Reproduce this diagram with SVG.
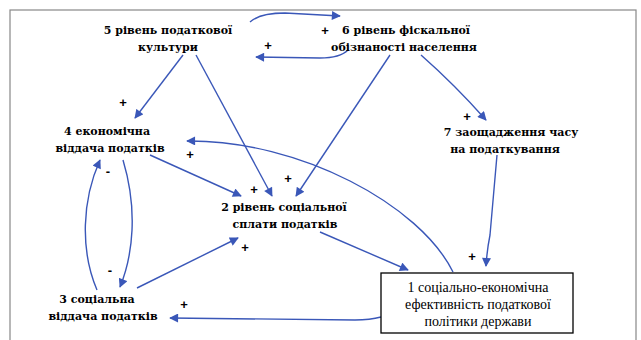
<svg xmlns="http://www.w3.org/2000/svg" width="641" height="340" viewBox="0 0 641 340">
<style>
.lbl{font-family:"DejaVu Serif","Liberation Serif",serif;font-weight:bold;font-size:11px;fill:#000;text-anchor:middle}
.box{font-family:"Liberation Serif","Times New Roman",serif;font-size:14px;fill:#000;text-anchor:middle}
.sg{font-family:"Liberation Sans",Arial,sans-serif;font-weight:bold;font-size:13px;fill:#000;text-anchor:middle}
.c{fill:none;stroke:#3a57b8;stroke-width:1.4}
</style>
<defs>
<marker id="ah" viewBox="0 0 10 10" refX="9" refY="5" markerWidth="10" markerHeight="9" markerUnits="userSpaceOnUse" orient="auto">
<path d="M0,0 L10,5 L0,10 Z" fill="#3a57b8"/>
</marker>
</defs>
<rect x="10" y="10" width="626" height="340" fill="#fff" stroke="#888" stroke-width="1.2"/>
<g id="connectors">
<path class="c" d="M250,22 Q260,13 285,13 L340,16" marker-end="url(#ah)"/>
<path class="c" d="M348,50 Q340,58 320,58 L256,57" marker-end="url(#ah)"/>
<path class="c" d="M183,55 L135,118" marker-end="url(#ah)"/>
<path class="c" d="M196,55 L272,196" marker-end="url(#ah)"/>
<path class="c" d="M390,55 L296,196" marker-end="url(#ah)"/>
<path class="c" d="M421,55 Q455,85 486,120" marker-end="url(#ah)"/>
<path class="c" d="M150,155 L241,196" marker-end="url(#ah)"/>
<path class="c" d="M453,272 C420,205 300,140 187,141" marker-end="url(#ah)"/>
<path class="c" d="M97,290 C80,250 82,200 100,160" marker-end="url(#ah)"/>
<path class="c" d="M123,160 C138,210 133,255 120,287" marker-end="url(#ah)"/>
<path class="c" d="M137,288 L238,238" marker-end="url(#ah)"/>
<path class="c" d="M320,232 L408,270" marker-end="url(#ah)"/>
<path class="c" d="M497,155 L490,235 Q487,250 486,266" marker-end="url(#ah)"/>
<path class="c" d="M381,317 Q370,320 355,320 L170,318" marker-end="url(#ah)"/>
</g>
<g id="signs">
<text class="sg" x="325" y="35">+</text>
<text class="sg" x="268" y="50">+</text>
<text class="sg" x="123" y="107">+</text>
<text class="sg" x="190" y="159">+</text>
<text class="sg" x="467" y="121">+</text>
<text class="sg" x="254" y="194">+</text>
<text class="sg" x="288" y="183">+</text>
<text class="sg" x="245" y="252">+</text>
<text class="sg" x="108" y="176">-</text>
<text class="sg" x="110" y="275">-</text>
<text class="sg" x="472" y="261">+</text>
<text class="sg" x="184" y="309">+</text>
<text class="sg" x="386" y="281" style="font-weight:normal;font-size:11px">+</text>
</g>
<g id="n5"><text class="lbl" x="168" y="34">5 рівень податкової</text><text class="lbl" x="168" y="51">культури</text></g>
<g id="n6"><text class="lbl" x="406" y="34">6 рівень фіскальної</text><text class="lbl" x="404" y="51">обізнаності населення</text></g>
<g id="n4"><text class="lbl" x="107" y="135">4 економічна</text><text class="lbl" x="110" y="152">віддача податків</text></g>
<g id="n7"><text class="lbl" x="511" y="136">7 заощадження часу</text><text class="lbl" x="505" y="153">на податкування</text></g>
<g id="n2"><text class="lbl" x="284" y="211">2 рівень соціальної</text><text class="lbl" x="285" y="228">сплати податків</text></g>
<g id="n3"><text class="lbl" x="97" y="303">3 соціальна</text><text class="lbl" x="103" y="320">віддача податків</text></g>
<g id="n1"><rect x="381" y="273" width="192" height="60" fill="#fff" stroke="#000" stroke-width="1.3"/>
<text class="box" x="478" y="292">1 соціально-економічна</text><text class="box" x="478" y="309">ефективність податкової</text><text class="box" x="478" y="326">політики держави</text></g>
</svg>
